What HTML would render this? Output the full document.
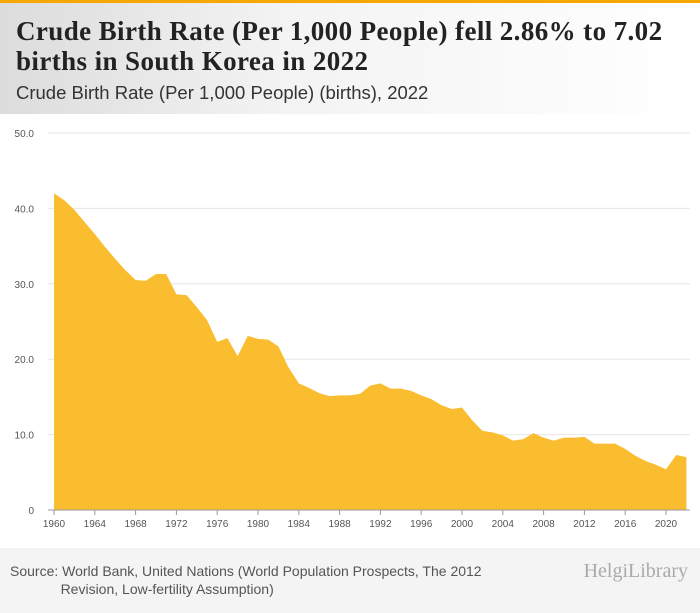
<!DOCTYPE html>
<html><head><meta charset="utf-8"><style>
body{margin:0;width:700px;height:613px;overflow:hidden;font-family:"Liberation Sans",sans-serif;background:#fff}
.hdr{position:absolute;left:0;top:0;width:700px;height:114px;background:linear-gradient(90deg,#dcdcdc 0%,#f3f3f3 40%,#fff 100%);border-top:3px solid #f5a800;box-sizing:border-box}
h1{position:absolute;left:16px;top:13px;margin:0;font-family:"Liberation Serif",serif;font-size:27px;line-height:30px;font-weight:bold;color:#222;width:665px;letter-spacing:0.4px}
.sub{position:absolute;left:16px;top:79px;font-size:18.5px;color:#333}
.ftr{position:absolute;left:0;top:548px;width:700px;height:65px;background:#f4f4f4}
.src{position:absolute;left:10px;top:14px;font-size:14px;color:#555;line-height:18px}
.logo{position:absolute;right:12px;top:12px;font-size:20px;color:#aaa;font-family:"Liberation Serif",serif}
</style></head><body>
<div class="hdr">
<h1>Crude Birth Rate (Per 1,000 People) fell 2.86% to 7.02 births in South Korea in 2022</h1>
<div class="sub">Crude Birth Rate (Per 1,000 People) (births), 2022</div>
</div>
<svg id="chart" width="700" height="548" style="position:absolute;left:0;top:0"></svg>
<div class="ftr">
<div class="src">Source: World Bank, United Nations (World Population Prospects, The 2012<br>&nbsp;&nbsp;&nbsp;&nbsp;&nbsp;&nbsp;&nbsp;&nbsp;&nbsp;&nbsp;&nbsp;&nbsp;&nbsp;Revision, Low-fertility Assumption)</div>
<div class="logo">HelgiLibrary</div>
</div>
<script>
const years=[1960,1961,1962,1963,1964,1965,1966,1967,1968,1969,1970,1971,1972,1973,1974,1975,1976,1977,1978,1979,1980,1981,1982,1983,1984,1985,1986,1987,1988,1989,1990,1991,1992,1993,1994,1995,1996,1997,1998,1999,2000,2001,2002,2003,2004,2005,2006,2007,2008,2009,2010,2011,2012,2013,2014,2015,2016,2017,2018,2019,2020,2021,2022];
const values=[42.0,41.1,39.8,38.2,36.6,34.9,33.3,31.8,30.5,30.4,31.3,31.3,28.6,28.5,26.9,25.2,22.3,22.8,20.4,23.1,22.7,22.6,21.7,18.9,16.8,16.2,15.5,15.1,15.2,15.2,15.4,16.5,16.8,16.1,16.1,15.8,15.2,14.7,13.9,13.4,13.6,11.9,10.5,10.3,9.9,9.2,9.4,10.2,9.6,9.2,9.6,9.6,9.7,8.8,8.8,8.8,8.1,7.2,6.5,6.0,5.4,7.3,7.02];
const yTicks=[0,10,20,30,40,50];
const yTickLabels=["0","10.0","20.0","30.0","40.0","50.0"];
const xTicks=[1960,1964,1968,1972,1976,1980,1984,1988,1992,1996,2000,2004,2008,2012,2016,2020];
const NS="http://www.w3.org/2000/svg",svg=document.getElementById('chart');
const x=v=>54+(v-1960)*10.2, y=v=>510-v*7.54;
function mk(t,a){const e=document.createElementNS(NS,t);for(const k in a)e.setAttribute(k,a[k]);svg.appendChild(e);return e;}
yTicks.forEach((t,i)=>{
 if(t>0){const g=mk('line',{x1:48,x2:690,y1:y(t),y2:y(t),stroke:'#e6e6e6'});
 
 }
 const l=mk('text',{x:34,y:y(t)+4,'text-anchor':'end','font-size':10,fill:'#555','font-family':'Liberation Sans'});l.textContent=yTickLabels[i];
 
 
});
let d='M'+x(years[0])+','+y(0);
years.forEach((yr,i)=>d+=' L'+x(yr)+','+y(values[i]));
d+=' L'+x(years[years.length-1])+','+y(0)+' Z';
const a=mk('path',{d:d,fill:'#fbbd30'});


const ax=mk('line',{x1:48,x2:690,y1:y(0),y2:y(0),stroke:'#999'});


xTicks.forEach(t=>{
 const tk=mk('line',{x1:x(t),x2:x(t),y1:510,y2:515,stroke:'#999'});
 
 
 const l=mk('text',{x:x(t),y:527,'text-anchor':'middle','font-size':10,fill:'#555','font-family':'Liberation Sans'});l.textContent=t;
 
 
});
</script>
</body></html>
